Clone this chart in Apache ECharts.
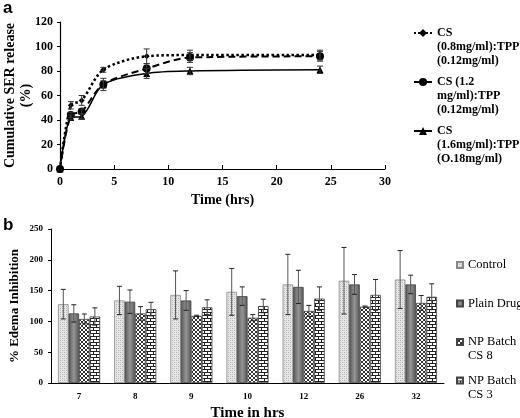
<!DOCTYPE html>
<html><head><meta charset="utf-8">
<script src="https://cdn.jsdelivr.net/npm/echarts@6/dist/echarts.min.js"></script>
<style>html,body{margin:0;padding:0;background:#fff}#c{width:520px;height:418px}</style>
</head><body><div id="c"></div>
<script>
// ---- Panel a data ----
const timeHrs = [0, 1, 2, 4, 8, 12, 24];
const cs08 = [0, 52, 56, 81, 92, 93, 93];
const cs08Err = [0, 3, 4, 2, 6, 4, 4];
const cs12 = [0, 44, 47, 69, 82, 91, 92];
const cs12Err = [0, 2, 2, 3, 4, 4, 4];
const cs16 = [0, 42, 43, 69, 78, 80, 81];
const cs16Err = [0, 2, 2, 5, 4, 3, 3];
const seriesNamesA = ['CS\n(0.8mg/ml):TPP\n(0.12mg/ml)', 'CS (1.2\nmg/ml):TPP\n(0.12mg/ml)', 'CS\n(1.6mg/ml):TPP\n(O.18mg/ml)'];

// ---- Panel b data ----
const hours = ['7', '8', '9', '10', '12', '26', '32'];
const control = [128, 134, 143, 148, 160, 166, 168];
const controlErr = [24, 23, 39, 38, 49, 54, 47];
const plainDrug = [113, 132, 134, 141, 156, 160, 160];
const plainDrugErr = [14, 19, 16, 15, 27, 16, 15];
const npCS8 = [104, 113, 109, 106, 117, 124, 130];
const npCS8Err = [8, 11, 1, 5, 9, 1, 12];
const npCS3 = [108, 120, 123, 125, 137, 143, 140];
const npCS3Err = [14, 11, 12, 11, 19, 25, 21];
const seriesNamesB = ['Control', 'Plain Drug', 'NP Batch\nCS 8', 'NP Batch\nCS 3'];

const SERIF = 'Liberation Serif';

function pattern(w, h, draw) {
  const c = document.createElement('canvas'); c.width = w; c.height = h;
  const g = c.getContext('2d'); draw(g); return { image: c, repeat: 'repeat' };
}
const patControl = pattern(4, 4, g => {
  g.fillStyle = '#e6e6e6'; g.fillRect(0, 0, 4, 4);
  g.fillStyle = '#b0b0b0'; g.fillRect(0, 0, 1, 1); g.fillRect(2, 2, 1, 1);
  g.fillStyle = '#cacaca'; g.fillRect(2, 0, 1, 1); g.fillRect(0, 2, 1, 1);
});
const patPlain = { type: 'linear', x: 0, y: 0, x2: 1, y2: 0,
  colorStops: [{ offset: 0, color: '#555555' }, { offset: 0.5, color: '#959595' }, { offset: 1, color: '#555555' }] };
const patNP8 = pattern(4, 4, g => {
  g.fillStyle = '#ffffff'; g.fillRect(0, 0, 4, 4);
  g.fillStyle = '#333333';
  for (let i = 0; i < 4; i++) { g.fillRect(i, i, 1, 1); g.fillRect(3 - i, i, 1, 1); }
});
const patNP3 = pattern(6, 6, g => {
  g.fillStyle = '#ffffff'; g.fillRect(0, 0, 6, 6);
  g.fillStyle = '#222222';
  g.fillRect(0, 0, 6, 1); g.fillRect(0, 3, 6, 1);
  g.fillRect(0, 1, 1, 2); g.fillRect(3, 4, 1, 2);
});
const barColors = [patControl, patPlain, patNP8, patNP3];
const barBorders = ['#888', '#444', '#444', '#444'];

const chart = echarts.init(document.getElementById('c'), null, { renderer: 'canvas' });

function pairs(xs, ys) { return xs.map((x, i) => [x, ys[i]]); }
function errData(xs, ys, es) { return xs.map((x, i) => [x, ys[i], es[i]]); }

function errLineRender(capHalf) {
  return function (params, api) {
    const x = api.value(0), y = api.value(1), e = api.value(2);
    if (!e) return;
    const top = api.coord([x, y + e]), bot = api.coord([x, y - e]);
    const st = { stroke: '#333', lineWidth: 1 };
    return { type: 'group', children: [
      { type: 'line', shape: { x1: top[0], y1: top[1], x2: bot[0], y2: bot[1] }, style: st },
      { type: 'line', shape: { x1: top[0] - capHalf, y1: top[1], x2: top[0] + capHalf, y2: top[1] }, style: st },
      { type: 'line', shape: { x1: bot[0] - capHalf, y1: bot[1], x2: bot[0] + capHalf, y2: bot[1] }, style: st }
    ] };
  };
}

function barErrRender(k) {
  return function (params, api) {
    const ci = api.value(0), y = api.value(1), e = api.value(2);
    const band = api.size([1, 0])[0];
    const bw = band * 0.75 / 4;
    const c0 = api.coord([ci, y]);
    const xc = c0[0] + (k - 1.5) * bw;
    const top = api.coord([ci, y + e])[1], bot = api.coord([ci, y - e])[1];
    const st = { stroke: '#555', lineWidth: 1 };
    const cs = { stroke: '#222', lineWidth: 1 };
    return { type: 'group', children: [
      { type: 'line', shape: { x1: xc, y1: top, x2: xc, y2: bot }, style: st },
      { type: 'line', shape: { x1: xc - 2.5, y1: top, x2: xc + 2.5, y2: top }, style: cs },
      { type: 'line', shape: { x1: xc - 2.5, y1: bot, x2: xc + 2.5, y2: bot }, style: cs }
    ] };
  };
}

const axisLabelA = { color: '#000', fontFamily: SERIF, fontWeight: 'bold', fontSize: 12 };
const axisLabelB = { color: '#000', fontFamily: SERIF, fontWeight: 'bold', fontSize: 9 };

const lineStyles = [
  { type: 'dotted', width: 2.5, color: '#000' },
  { type: [7, 4], width: 2, color: '#000' },
  { type: 'solid', width: 1.5, color: '#000' }
];
const symbols = ['diamond', 'circle', 'triangle'];
const symbolSizes = [6, 8, 7];
const dataA = [cs08, cs12, cs16];
const errA = [cs08Err, cs12Err, cs16Err];
const dataB = [control, plainDrug, npCS8, npCS3];
const errB = [controlErr, plainDrugErr, npCS8Err, npCS3Err];

const series = [];
dataA.forEach((d, i) => {
  series.push({
    type: 'line', name: seriesNamesA[i], xAxisIndex: 0, yAxisIndex: 0,
    data: pairs(timeHrs, d), smooth: 0.3,
    symbol: symbols[i], symbolSize: symbolSizes[i], showSymbol: true,
    lineStyle: lineStyles[i], itemStyle: { color: '#000' }, z: 3
  });
  series.push({
    type: 'custom', xAxisIndex: 0, yAxisIndex: 0, renderItem: errLineRender(3),
    data: errData(timeHrs, d, errA[i]), z: 4, silent: true
  });
});
dataB.forEach((d, k) => {
  series.push({
    type: 'bar', name: seriesNamesB[k], xAxisIndex: 1, yAxisIndex: 1,
    data: d, barGap: '0%', barCategoryGap: '25%',
    itemStyle: { color: barColors[k], borderColor: barBorders[k], borderWidth: 0.8 }
  });
});
dataB.forEach((d, k) => {
  series.push({
    type: 'custom', xAxisIndex: 1, yAxisIndex: 1, renderItem: barErrRender(k),
    data: d.map((v, i) => [i, v, errB[k][i]]), z: 5, silent: true
  });
});

// Legend labels: blank lines are added so the first text line sits beside the marker.
function firstLineAligned(name, total) {
  const n = name.split('\n').length;
  const before = total > 0 ? (total - 1) / 2 : 0;
  let s = '\n'.repeat(before) + name;
  const after = total - before - n;
  if (after > 0) s += '\n'.repeat(after);
  return s;
}

chart.setOption({
  animation: false,
  backgroundColor: '#fff',
  title: [
    { text: 'a', left: -2, top: -5, textStyle: { fontFamily: 'Liberation Sans', fontWeight: 'bold', fontSize: 17, color: '#000' } },
    { text: 'b', left: -2, top: 212, textStyle: { fontFamily: 'Liberation Sans', fontWeight: 'bold', fontSize: 17, color: '#000' } }
  ],
  legend: [
    { orient: 'vertical', left: 413, top: -2, padding: 0, itemGap: -21, itemWidth: 18, itemHeight: 10,
      data: seriesNamesA,
      formatter: name => firstLineAligned(name, 5),
      textStyle: { fontFamily: SERIF, fontWeight: 'bold', fontSize: 12, lineHeight: 14, color: '#000' } },
    { orient: 'vertical', left: 456, top: 244, padding: 0, itemGap: -3.5, itemWidth: 6, itemHeight: 6, icon: 'rect',
      data: seriesNamesB,
      formatter: name => firstLineAligned(name, 3),
      textStyle: { fontFamily: SERIF, fontSize: 12.5, lineHeight: 14, color: '#000' } }
  ],
  grid: [
    { left: 60, right: 135, top: 22, bottom: 249, containLabel: false, outerBoundsMode: 'none' },
    { left: 51, right: 76, top: 229, bottom: 35, containLabel: false, outerBoundsMode: 'none' }
  ],
  xAxis: [
    { type: 'value', gridIndex: 0, min: 0, max: 30, interval: 5,
      name: 'Time (hrs)', nameLocation: 'middle', nameGap: 24, nameMoveOverlap: false,
      nameTextStyle: { fontFamily: SERIF, fontWeight: 'bold', fontSize: 14, color: '#000' },
      axisLine: { lineStyle: { color: '#000', width: 1.2 } },
      axisTick: { inside: true, length: 4, lineStyle: { color: '#000' } },
      splitLine: { show: false }, axisLabel: Object.assign({ margin: 7 }, axisLabelA) },
    { type: 'category', gridIndex: 1, data: hours,
      name: 'Time in hrs', nameLocation: 'middle', nameGap: 23, nameMoveOverlap: false,
      nameTextStyle: { fontFamily: SERIF, fontWeight: 'bold', fontSize: 15, color: '#000' },
      axisLine: { lineStyle: { color: '#000', width: 1 } },
      axisTick: { show: false }, axisLabel: Object.assign({ margin: 9 }, axisLabelB) }
  ],
  yAxis: [
    { type: 'value', gridIndex: 0, min: 0, max: 120, interval: 20,
      name: 'Cumulative SER release\n(%)', nameLocation: 'middle', nameGap: 26, nameRotate: 90, nameMoveOverlap: false,
      nameTextStyle: { fontFamily: SERIF, fontWeight: 'bold', fontSize: 14, lineHeight: 16, color: '#000' },
      axisLine: { show: true, lineStyle: { color: '#000', width: 1.2 } },
      axisTick: { show: true, length: 3, lineStyle: { color: '#000' } },
      splitLine: { show: false }, axisLabel: Object.assign({ margin: 7 }, axisLabelA) },
    { type: 'value', gridIndex: 1, min: 0, max: 250, interval: 50,
      name: '% Edema Inhibition', nameLocation: 'middle', nameGap: 30, nameRotate: 90, nameMoveOverlap: false,
      nameTextStyle: { fontFamily: SERIF, fontWeight: 'bold', fontSize: 13, color: '#000' },
      axisLine: { show: true, lineStyle: { color: '#000', width: 1 } },
      axisTick: { show: true, length: 3, lineStyle: { color: '#000' } },
      splitLine: { show: false }, axisLabel: Object.assign({ margin: 8 }, axisLabelB) }
  ],
  series: series
});
</script></body></html>
